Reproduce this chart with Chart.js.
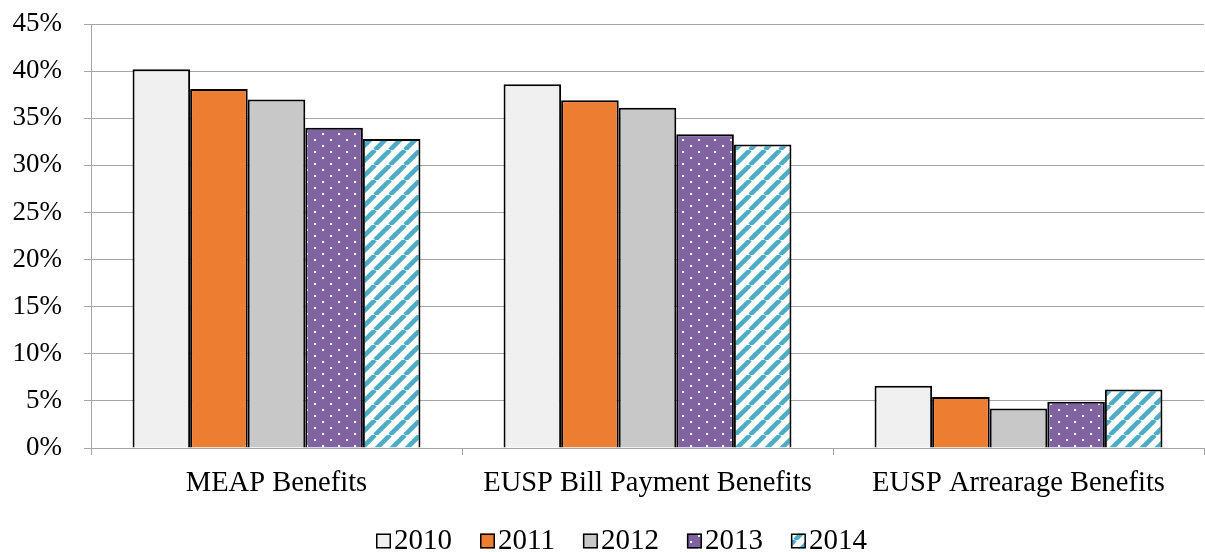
<!DOCTYPE html>
<html>
<head>
<meta charset="utf-8">
<script src="https://cdn.jsdelivr.net/npm/chart.js@4/dist/chart.umd.min.js"></script>
<style>
  html, body { margin: 0; padding: 0; background: #fff; }
  #wrap { width: 1205px; height: 552px; position: relative; }
</style>
</head>
<body>
<div id="wrap"><canvas id="c" width="1205" height="552"></canvas></div>
<script>
const categories = ['MEAP Benefits', 'EUSP Bill Payment Benefits', 'EUSP Arrearage Benefits'];
const years = ['2010', '2011', '2012', '2013', '2014'];
const values2010 = [40.2, 38.6, 6.6];
const values2011 = [38.1, 36.9, 5.4];
const values2012 = [37.0, 36.1, 4.2];
const values2013 = [34.0, 33.3, 4.9];
const values2014 = [32.8, 32.2, 6.2];
const yTicks = [0, 5, 10, 15, 20, 25, 30, 35, 40, 45];

// Purple fill with sparse white dots on a staggered grid
function dotPattern() {
  const t = document.createElement('canvas');
  t.width = 16; t.height = 12;
  const g = t.getContext('2d');
  g.fillStyle = '#8064a2';
  g.fillRect(0, 0, 16, 12);
  g.fillStyle = '#ffffff';
  g.fillRect(2, 1, 2, 2);
  g.fillRect(10, 7, 2, 2);
  return g.createPattern(t, 'repeat');
}

// White fill with teal diagonal stripes rising to the right
function stripePattern() {
  const s = 15;
  const t = document.createElement('canvas');
  t.width = s; t.height = s;
  const g = t.getContext('2d');
  g.fillStyle = '#ffffff';
  g.fillRect(0, 0, s, s);
  g.strokeStyle = '#4bacc6';
  g.lineWidth = 4.5;
  g.beginPath();
  for (let k = -1; k <= 1; k++) {
    g.moveTo(k * s, s);
    g.lineTo(k * s + s, 0);
  }
  g.stroke();
  return g.createPattern(t, 'repeat');
}

const fills = ['#f0f0f0', '#ed7d31', '#c8c8c8', dotPattern(), stripePattern()];
const series = [values2010, values2011, values2012, values2013, values2014];

const font = 'Liberation Serif, Times New Roman, serif';

// Compact legend row under the axis: small framed swatch directly before each year
const swatchLegend = {
  id: 'swatchLegend',
  afterDraw(chart, args, opts) {
    const ctx = chart.ctx;
    const sets = chart.data.datasets;
    ctx.save();
    ctx.font = opts.fontSize + 'px ' + font;
    const widths = sets.map(d => ctx.measureText(d.label).width);
    let x = opts.startX;
    sets.forEach((d, i) => {
      ctx.fillStyle = d.backgroundColor;
      ctx.fillRect(x, opts.baseline - opts.box, opts.box, opts.box);
      ctx.lineWidth = 1.5;
      ctx.strokeStyle = '#000';
      ctx.strokeRect(x + 0.75, opts.baseline - opts.box + 0.75, opts.box - 1.5, opts.box - 1.5);
      ctx.fillStyle = '#000';
      ctx.textBaseline = 'alphabetic';
      ctx.textAlign = 'left';
      ctx.fillText(d.label, x + opts.box + opts.gap, opts.baseline);
      x += opts.box + opts.gap + widths[i] + opts.spacing;
    });
    ctx.restore();
  }
};

new Chart(document.getElementById('c'), {
  type: 'bar',
  data: {
    labels: categories,
    datasets: series.map((vals, i) => ({
      label: years[i],
      data: vals,
      backgroundColor: fills[i],
      borderColor: '#000000',
      borderWidth: 2,
      borderSkipped: 'bottom',
      barPercentage: 1.0,
      categoryPercentage: 0.776
    }))
  },
  plugins: [swatchLegend],
  options: {
    responsive: false,
    animation: false,
    devicePixelRatio: 1,
    layout: { autoPadding: false, padding: { top: 24, right: 1, left: 0, bottom: 0 } },
    plugins: {
      tooltip: { enabled: false },
      legend: { display: false },
      swatchLegend: { startX: 376, baseline: 548.5, box: 15, gap: 3, spacing: 28, fontSize: 29 }
    },
    scales: {
      x: {
        afterFit: (scale) => { scale.height = 104; },
        grid: {
          offset: true,
          drawOnChartArea: false,
          drawTicks: true,
          tickLength: 7,
          tickColor: '#a6a6a6',
          color: '#a6a6a6'
        },
        border: { color: '#a6a6a6', width: 1 },
        ticks: {
          color: '#000',
          font: { family: font, size: 28.5 },
          padding: 11,
          maxRotation: 0
        }
      },
      y: {
        min: 0,
        max: 45,
        afterFit: (scale) => {
          scale.width = 91;
          scale.paddingTop = 0;
          scale.paddingBottom = 0;
        },
        afterBuildTicks: (scale) => { scale.ticks = yTicks.map(v => ({ value: v })); },
        grid: {
          color: '#a6a6a6',
          tickColor: '#a6a6a6',
          tickLength: 7,
          drawTicks: true
        },
        border: { color: '#a6a6a6', width: 1 },
        ticks: {
          color: '#000',
          font: { family: font, size: 27 },
          padding: 22,
          callback: (v) => v + '%'
        }
      }
    }
  }
});
</script>
</body>
</html>
